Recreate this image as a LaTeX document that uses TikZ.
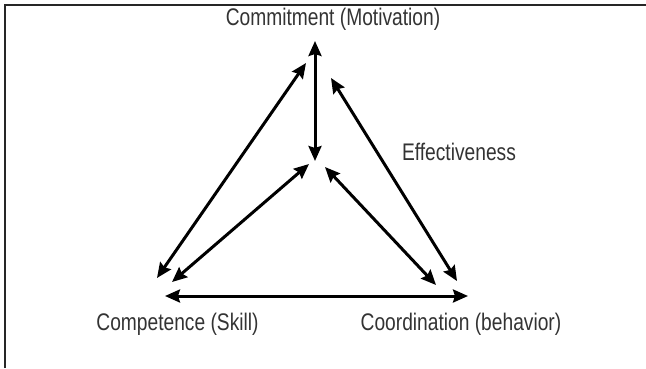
\documentclass[tikz,border=0pt]{standalone}
\usepackage{fontspec}
\setmainfont{Liberation Sans}[FakeStretch=0.8]
\usetikzlibrary{arrows.meta,positioning}
\newcommand{\link}[2]
{
	\draw[link] (#1) -- (#2)
}

\begin{document}
\begin{tikzpicture}[x=1pt,y=-1pt,
			lbl/.style={text=black!80,
				inner sep=0,
			font=\fontsize{24}{28}\selectfont},
			link/.style={line width=3pt,
			{Stealth[length=15pt,width=13pt,inset=2pt]}-{Stealth[length=15pt,width=13pt,inset=2pt]}},
			frame/.style={line width=2pt, draw=black!85}]
			
			\useasboundingbox (0,0) rectangle (646,368);
			\draw[frame] (4.5,368) |- (646,4.5);
			
			\node[lbl] at (333, 19) (Cm){Commitment (Motivation)};
			\node[lbl] at (177.5, 324) (Cp){Competence (Skill)};
			\node[lbl] at (461, 324) (Cd){Coordination (behavior)};
			\node[lbl] at (459, 152) (Eff){Effectiveness};
			
			% arrow ends
			\coordinate (cm-top) at (315, 41);
			\coordinate (ctr) at (315, 161);
			\coordinate (cm-l) at (306, 63);
			\coordinate (cm-r) at (331, 78);
			\coordinate (ctr-l) at (309, 164);
			\coordinate (ctr-r) at (325, 167);
			\coordinate (cp-out) at (157, 278);
			\coordinate (cp-in) at (172, 282);
			\coordinate (cp-base) at (165, 296);
			\coordinate (cd-out) at (457, 281);
			\coordinate (cd-in) at (436, 285);
			\coordinate (cd-base) at (468, 296);
			
			\link{cm-top}{ctr};
			\link{cm-l}{cp-out};
			\link{cm-r}{cd-out};
			\link{ctr-l}{cp-in};
			\link{ctr-r}{cd-in};
			\link{cp-base}{cd-base};
		\end{tikzpicture}
\end{document}
